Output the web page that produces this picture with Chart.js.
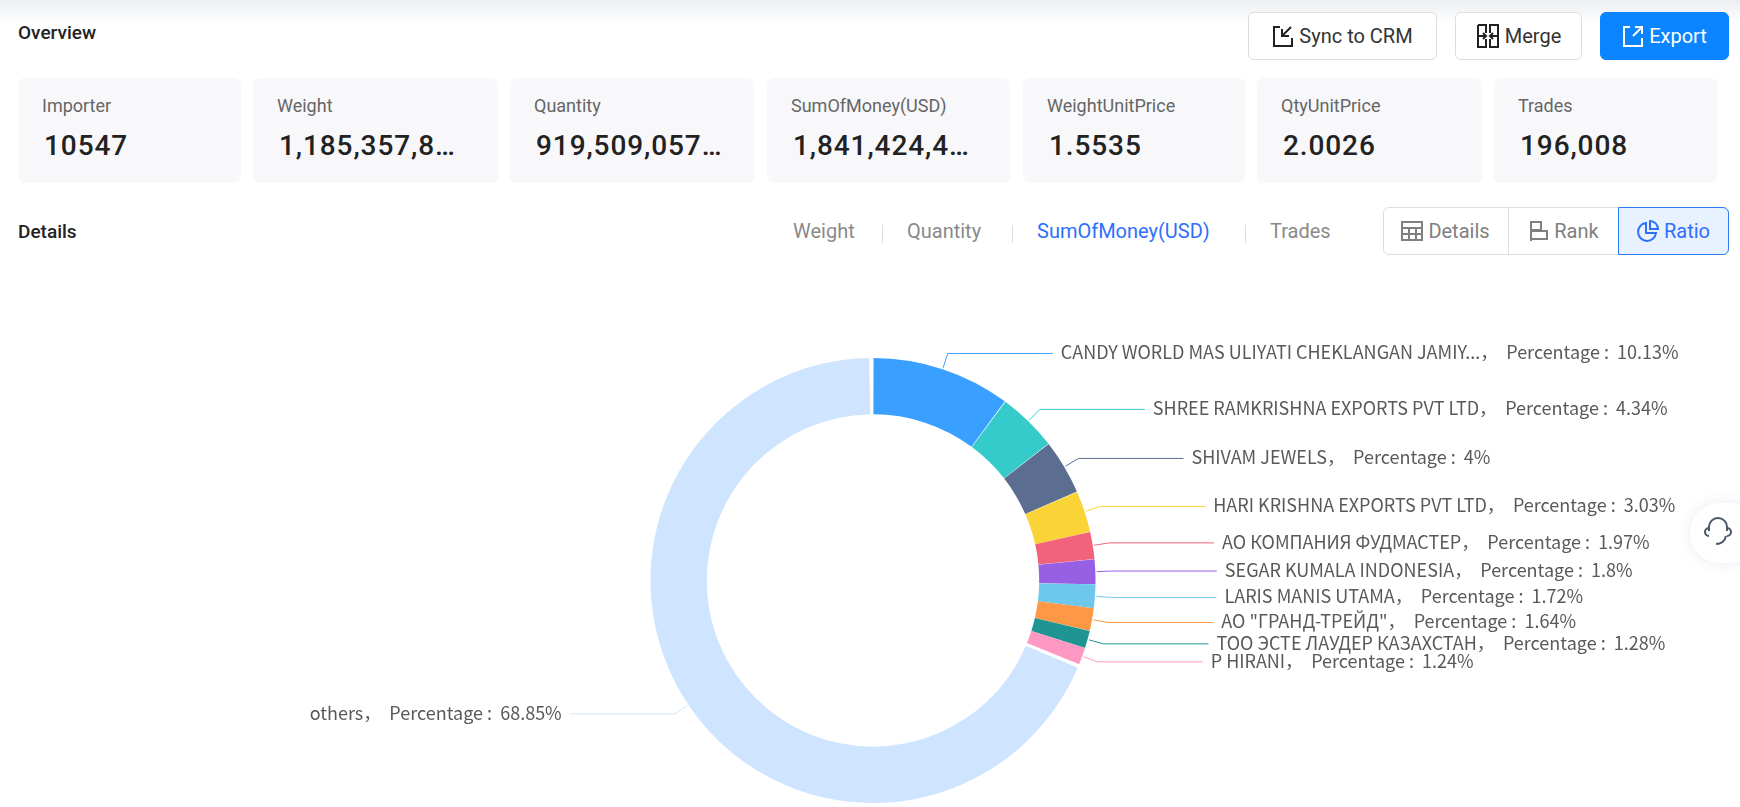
<!DOCTYPE html>
<html>
<head>
<meta charset="utf-8">
<script src="https://cdn.jsdelivr.net/npm/chart.js@4"></script>
<style>
    html, body { margin: 0; padding: 0; width: 1740px; height: 807px; overflow: hidden; background: #fff; font-family: Roboto, sans-serif; }
    .abs { position: absolute; white-space: nowrap; }
    #topShade { position: absolute; left: 0; top: 0; width: 1740px; height: 24px; background: linear-gradient(#eceef0, #ffffff); }
    .heading { font-size: 19px; font-weight: 500; color: #222; line-height: 24px; }
    .btn { box-sizing: border-box; top: 12px; height: 48px; border: 1px solid #dcdee2; border-radius: 6px; background: #fff; color: #333; font-size: 20px; display: flex; align-items: center; justify-content: center; gap: 5px; }
    .btn.primary { background: #0a84ff; border-color: #0a84ff; color: #fff; }
    .card { position: absolute; box-sizing: border-box; top: 78px; height: 105px; background: #f8f8fa; border-radius: 7px; }
    .card .lbl { position: absolute; left: 24px; top: 17px; font-size: 18px; line-height: 22px; color: #666; white-space: nowrap; }
    .card .val { position: absolute; left: 26px; top: 50px; font-size: 28px; line-height: 36px; font-weight: 500; color: #222; letter-spacing: 0.9px; white-space: nowrap; }
    .tab { font-size: 20px; line-height: 26px; top: 218px; color: #8a8a8a; }
    .tab.on { color: #2f6ffb; }
    .sep { position: absolute; top: 225px; width: 1px; height: 18px; background: #dddddd; }
    #seg { position: absolute; box-sizing: border-box; left: 1383px; top: 207px; width: 346px; height: 48px; border: 1px solid #dcdee2; border-radius: 6px; }
    .segItem { position: absolute; box-sizing: border-box; top: 207px; height: 48px; font-size: 20px; color: #808080; display: flex; align-items: center; justify-content: center; gap: 5px; }
    .segItem.on { background: #e8f1fe; color: #2f6ffb; border: 1px solid #2f7bf0; border-radius: 0 6px 6px 0; }
    #chartBox { position: absolute; left: 0; top: 260px; width: 1740px; height: 547px; }
    #help { position: absolute; left: 1690px; top: 503px; width: 70px; height: 60px; border-radius: 30px; background: #fff; box-shadow: 0 0 14px rgba(120,130,160,0.16); }
</style>
</head>
<body>
<div id="topShade"></div>
<div class="abs heading" style="left:18px;top:21px">Overview</div>
<div class="abs heading" style="left:18px;top:220px">Details</div>

<div class="abs btn" style="left:1248px;width:189px">
    <svg width="22" height="24" viewBox="0 0 22 24" fill="none" stroke="#222" stroke-width="2"><path d="M8 3H2v19h18v-8M19 3l-9 9M10 5v7h7"/></svg>Sync to CRM
</div>
<div class="abs btn" style="left:1455px;width:127px">
    <svg width="24" height="26" viewBox="0 0 24 26" fill="none" stroke="#222" stroke-width="2"><path d="M2 2h8v8M14 10V2h8v8M2 2v22h8v-8M22 2v22h-8v-8M2 13h7M15 13h7M7 10l3 3-3 3M17 10l-3 3 3 3"/></svg>Merge
</div>
<div class="abs btn primary" style="left:1600px;width:129px">
    <svg width="22" height="24" viewBox="0 0 22 24" fill="none" stroke="#fff" stroke-width="2"><path d="M8 3H2v19h18v-8M20 3l-9 9M13 3h7v7"/></svg>Export
</div>

<div id="cards"></div>

<div class="abs tab" style="left:793px">Weight</div>
<div class="sep" style="left:882px"></div>
<div class="abs tab" style="left:907px">Quantity</div>
<div class="sep" style="left:1012px"></div>
<div class="abs tab on" style="left:1037px">SumOfMoney(USD)</div>
<div class="sep" style="left:1245px"></div>
<div class="abs tab" style="left:1270px">Trades</div>

<div id="seg"></div>
<div class="segItem" style="left:1383px;width:126px;border-right:1px solid #dcdee2">
    <svg width="22" height="20" viewBox="0 0 22 20" fill="none" stroke="#808080" stroke-width="2"><path d="M1 1h20v18H1zM1 7h20M1 13h20M8 7v12M15 7v12"/></svg>Details
</div>
<div class="segItem" style="left:1510px;width:108px">
    <svg width="20" height="22" viewBox="0 0 20 22" fill="none" stroke="#808080" stroke-width="2"><path d="M2 1v20M2 2h10v8H2M2 11h16v8H2"/></svg>Rank
</div>
<div class="segItem on" style="left:1618px;width:111px">
    <svg width="22" height="22" viewBox="0 0 22 22" fill="none" stroke="#2f6ffb" stroke-width="2"><path d="M9 3a9 9 0 1 0 10 10H9zM13 1a8 8 0 0 1 8 8h-8z"/></svg>Ratio
</div>

<div id="chartBox"><canvas id="myChart"></canvas></div>

<div id="help">
    <svg style="position:absolute;left:14px;top:14px" width="28" height="30" viewBox="0 0 28 30" fill="none" stroke="#4a5568" stroke-width="2"><path d="M5 14V10a9 9 0 0 1 18 0v4M5 11a4 4 0 0 0 0 8M23 11a4 4 0 0 1 0 8M12 27c5 0 9-3 10-8"/></svg>
</div>

<script>
const cardLabels = ['Importer', 'Weight', 'Quantity', 'SumOfMoney(USD)', 'WeightUnitPrice', 'QtyUnitPrice', 'Trades'];
const cardValues = ['10547', '1,185,357,8…', '919,509,057…', '1,841,424,4…', '1.5535', '2.0026', '196,008'];
const cardLefts = [18, 253, 510, 767, 1023, 1257, 1494];
const cardWidths = [223, 245, 244, 243, 222, 225, 223];

const importers = [
    'CANDY WORLD MAS ULIYATI CHEKLANGAN JAMIY...',
    'SHREE RAMKRISHNA EXPORTS PVT LTD',
    'SHIVAM JEWELS',
    'HARI KRISHNA EXPORTS PVT LTD',
    'АО КОМПАНИЯ ФУДМАСТЕР',
    'SEGAR KUMALA INDONESIA',
    'LARIS MANIS UTAMA',
    'АО "ГРАНД-ТРЕЙД"',
    'ТОО ЭСТЕ ЛАУДЕР КАЗАХСТАН',
    'P HIRANI',
    'others'
];
const percentages = [10.13, 4.34, 4, 3.03, 1.97, 1.8, 1.72, 1.64, 1.28, 1.24, 68.85];
const sliceColors = ['#3aa0ff', '#36cbcb', '#5b6e8f', '#fad337', '#f2637b', '#975fe4', '#6dc8ec', '#ff9845', '#1e9493', '#ff99c3', '#cfe5ff'];

const cardsEl = document.getElementById('cards');
cardLabels.forEach((label, i) => {
    const card = document.createElement('div');
    card.className = 'card';
    card.style.left = cardLefts[i] + 'px';
    card.style.width = cardWidths[i] + 'px';
    card.innerHTML = '<div class="lbl">' + label + '</div><div class="val">' + cardValues[i] + '</div>';
    cardsEl.appendChild(card);
});

// leader lines and labels, placed from each arc's own angle
const sliceLabels = {
    id: 'sliceLabels',
    afterDatasetsDraw(chart) {
        const ctx = chart.ctx;
        ctx.save();
        ctx.font = "18px 'Noto Sans CJK SC'";
        ctx.textBaseline = 'middle';
        chart.getDatasetMeta(0).data.forEach((arc, i) => {
            const mid = (arc.startAngle + arc.endAngle) / 2;
            const r = arc.outerRadius;
            const startX = arc.x + Math.cos(mid) * (r + 3);
            const startY = arc.y + Math.sin(mid) * (r + 3);
            const elbowX = arc.x + Math.cos(mid) * (r + 18);
            const elbowY = arc.y + Math.sin(mid) * (r + 18);
            const dir = Math.cos(mid) >= 0 ? 1 : -1;
            ctx.strokeStyle = sliceColors[i];
            ctx.lineWidth = 1;
            ctx.beginPath();
            ctx.moveTo(startX, startY);
            ctx.lineTo(elbowX, elbowY);
            ctx.lineTo(elbowX + dir * 105, elbowY);
            ctx.stroke();
            ctx.fillStyle = '#595959';
            ctx.textAlign = dir > 0 ? 'left' : 'right';
            ctx.fillText(importers[i] + '，  Percentage :  ' + percentages[i] + '%', elbowX + dir * 113, elbowY - 1);
        });
        ctx.restore();
    }
};

new Chart(document.getElementById('myChart').getContext('2d'), {
    type: 'doughnut',
    data: {
        labels: importers,
        datasets: [{
            data: percentages,
            backgroundColor: sliceColors,
            borderWidth: 0,
            spacing: 3
        }]
    },
    options: {
        responsive: true,
        maintainAspectRatio: false,
        animation: false,
        cutout: '74.5%',
        layout: { padding: { top: 98, bottom: 4, left: 6, right: 0 } },
        plugins: { legend: { display: false }, tooltip: { enabled: false } }
    },
    plugins: [sliceLabels]
});
</script>
</body>
</html>
